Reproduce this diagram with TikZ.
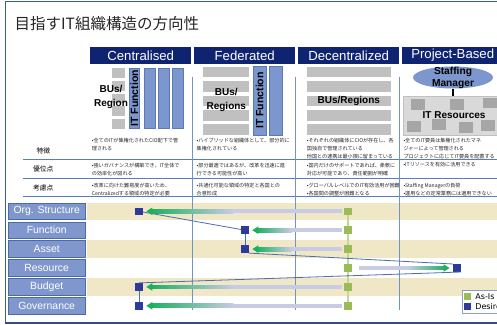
\documentclass[tikz,border=0pt]{standalone}
\usepackage{fontspec}
\setmainfont{Liberation Sans}
\newfontfamily\jpfont{Noto Sans CJK JP}
\newfontfamily\legfont{DejaVu Sans}
\usetikzlibrary{calc,positioning,shapes.geometric}

\definecolor{hdrnavy}{RGB}{14,36,112}
\definecolor{barblue}{RGB}{124,151,206}
\definecolor{baredge}{RGB}{92,120,182}
\definecolor{bugray}{RGB}{192,192,192}
\definecolor{resgray}{RGB}{217,217,217}
\definecolor{resbox}{RGB}{166,166,166}
\definecolor{sepblue}{RGB}{110,148,202}
\definecolor{rowline}{RGB}{88,124,190}
\definecolor{framecol}{RGB}{60,90,158}
\definecolor{labblue}{RGB}{127,151,204}
\definecolor{labedge}{RGB}{74,106,168}
\definecolor{bandcol}{RGB}{239,231,198}
\definecolor{asisgreen}{RGB}{155,187,89}
\definecolor{asisline}{RGB}{195,214,150}
\definecolor{desblue}{RGB}{46,58,155}
\definecolor{desline}{RGB}{77,108,180}
\definecolor{arrgreen}{RGB}{26,176,92}
\definecolor{arrlav}{RGB}{200,203,230}
\definecolor{txtgray}{RGB}{40,40,40}
\definecolor{legedge}{RGB}{140,159,204}

\begin{document}
\begin{tikzpicture}[x=1pt,y=-1pt,
	hdr/.style={fill=hdrnavy,text=white,font=\fontsize{13.2}{14}\selectfont,minimum width=101pt,minimum height=17.3pt,inner sep=0pt},
	bulabel/.style={font=\bfseries\fontsize{10}{13.5}\selectfont,align=center,inner sep=0pt},
	itbar/.style={fill=barblue,draw=baredge,line width=0.4pt,rotate=90,inner sep=0pt,font=\bfseries\fontsize{10.5}{12}\selectfont},
	rowhead/.style={inner sep=0pt,font=\jpfont\fontsize{6.8}{8}\selectfont},
	celltext/.style={anchor=north west,align=left,inner sep=0pt,text=txtgray,font=\jpfont\fontsize{5.1}{8}\selectfont},
	rowlab/.style={fill=labblue,draw=labedge,line width=0.8pt,text=white,minimum width=76.7pt,minimum height=16.5pt,inner sep=0pt,font=\fontsize{10.4}{12}\selectfont},
	asis/.style={fill=asisgreen,minimum size=7.6pt,inner sep=0pt},
	desired/.style={fill=desblue,minimum size=7.6pt,inner sep=0pt},
	colsep/.style={sepblue,line width=0.9pt}]
	\useasboundingbox (0,0) rectangle (497,324);
	\fill[white] (0,0) rectangle (497,324);
	% frame and title
	\draw[framecol,line width=1pt] (5,322) -- (5,1.7) -- (500,1.7);
	\draw[framecol!85!black,line width=2pt] (5,322.5) -- (500,322.5);
	\node(title) [anchor=west,inner sep=0pt,text=black!85,font=\jpfont\fontsize{15.5}{18}\selectfont] at (14.5,23.5) {目指すIT組織構造の方向性};
	% column heads
	\node(cen) [hdr,anchor=north west] at (90,46.7) {Centralised};
	\node(fed) [hdr,right=2.6pt of cen] {Federated};
	\node(dec) [hdr,right=2.6pt of fed] {Decentralized};
	\node(prj) [hdr,right=2.6pt of dec] {Project-Based};
	% Centralised
	\foreach \k in {0,...,4} \fill[bugray] (111.7,{68.3+12.7*\k}) rectangle ++(13.3,9.6);
	\node(cenit) [itbar,minimum width=60pt,minimum height=10pt] at (134.3,98.3) {IT Function};
	\foreach \x in {144,158,172} \filldraw[fill=barblue,draw=baredge,line width=0.4pt] (\x,68.3) rectangle ++(11,60);
	\node(cenbu) [bulabel] at (111,97) {BUs/\\Region};
	% Federated
	\foreach \k in {0,...,4} \fill[bugray] (203.3,{66.7+14.4*\k}) rectangle ++(46,10.6);
	\node(fedbu) [bulabel] at (226.3,100) {BUs/\\Regions};
	\node(fedit) [itbar,minimum width=69pt,minimum height=12.7pt] at (259.7,100.5) {IT Function};
	\filldraw[fill=barblue,draw=baredge,line width=0.4pt] (269.3,66) rectangle (281.7,135);
	% Decentralized
	\foreach \k in {0,...,4} \fill[bugray] (306.7,{66.7+14.4*\k}) rectangle ++(84.3,10.6);
	\node(decbu) [bulabel] at (348.8,100.8) {BUs/Regions};
	% Project-Based
	\node(res) [anchor=north west,fill=resgray,draw=bugray,minimum width=102.3pt,minimum height=39.3pt,inner sep=0pt] at (402.7,95.7) {};
	\foreach \x/\y in {411/99,450/99,482.7/97.7,406.7/121,431.7/119.3,459.3/122.3,481/120}
		\fill[resbox] (\x,\y) rectangle ++(14,10.5);
	\node(resit) [bulabel] at (res.center) {IT Resources};
	\node(stf) [ellipse,fill=barblue,minimum width=80pt,minimum height=22pt,inner sep=0pt] at (453,77.5) {};
	\node(stft) [bulabel,font=\bfseries\fontsize{10.2}{12.6}\selectfont] at ($(stf.center)+(0,0.5)$) {Staffing\\Manager};
	\draw[black,line width=1.2pt] (stf.south) -- (stf.south |- res.north);
	% text rows
	\node(r1) [rowhead] at (43.3,151) {特徴};
	\node(r2) [rowhead] at (43.3,168.5) {優位点};
	\node(r3) [rowhead] at (43.3,187.5) {考慮点};
	\foreach \y in {159,178.3,196} \draw[rowline,line width=0.8pt] (22.7,\y) -- (500,\y);
	\node(c11) [celltext] at (91.7,137.5) {•全てのITが集権化されたCIO配下で管\\理される};
	\node(c12) [celltext] at (91.7,162.5) {•強いガバナンスが構築でき，IT全体で\\の効率化が図れる};
	\node(c13) [celltext] at (91.7,183) {•改革に向けた難易度が高いため、\\Centralizedする領域の特定が必要};
	\node(c21) [celltext] at (196.5,137.5) {•ハイブリッドな組織体として、部分的に\\集権化されている};
	\node(c22) [celltext] at (196.5,162.5) {•部分最適ではあるが、改革を迅速に進\\行できる可能性が高い};
	\node(c23) [celltext] at (196.5,183) {•共通化可能な領域の特定と各国との\\合意形成};
	\node(c31) [celltext] at (306.7,137.5) {•それぞれの組織体にCIOが存在し、各\\国独自で管理されている\\他国との連携は最小限に留まっている};
	\node(c32) [celltext] at (306.7,162.5) {•国内だけのサポートであれば、柔軟に\\対応が可能であり、責任範囲が明確};
	\node(c33) [celltext] at (306.7,183) {•グローバルレベルでのIT有効活用が困難\\•各国間の調整が困難となる};
	\node(c41) [celltext] at (403.3,137.5) {•全てのIT要員は集権化されたマネ\\ジャーによって管理される\\プロジェクトに応じてIT要員を配置する};
	\node(c42) [celltext] at (403.3,162.5) {•ITリソースを有効に活用できる};
	\node(c43) [celltext] at (403.3,183) {•Staffing Managerの負荷\\•運用などの定常業務には適用できない};
	% chart rows
	\coordinate(rgt) at (500,0);
	\node(lorg) [rowlab] at (46.7,211.3) {Org. Structure};
	\node(lfun) [rowlab,below=1.6pt of lorg] {Function};
	\node(last) [rowlab,below=1.6pt of lfun] {Asset};
	\node(lres) [rowlab,below=1.6pt of last] {Resource};
	\node(lbud) [rowlab,below=1.6pt of lres] {Budget};
	\node(lgov) [rowlab,below=1.6pt of lbud] {Governance};
	\foreach \n in {lorg,last,lbud} \fill[bandcol] ($(\n.north east)+(1.7,0)$) rectangle (\n.south -| rgt);
	\foreach \x in {192.3,295.9,399.5} \draw[colsep] (\x,76.7) -- (\x,310);
	% markers
	\coordinate(asx) at (348,0);
	\coordinate(dl) at (139,0);
	\coordinate(dm) at (245,0);
	\coordinate(dr) at (457,0);
	\node(a1) [asis] at (lorg -| asx) {};
	\node(a2) [asis] at (lfun -| asx) {};
	\node(a3) [asis] at (last -| asx) {};
	\node(a4) [asis] at (lres -| asx) {};
	\node(a5) [asis] at (lbud -| asx) {};
	\node(a6) [asis] at (lgov -| asx) {};
	\node(d1) [desired] at (lorg -| dl) {};
	\node(d2) [desired] at (lfun -| dm) {};
	\node(d3) [desired] at (last -| dm) {};
	\node(d4) [desired] at (lres -| dr) {};
	\node(d5) [desired] at (lbud -| dl) {};
	\node(d6) [desired] at (lgov -| dl) {};
	\path[asisline,line width=1.3pt]
		(a1) edge (a2) (a2) edge (a3) (a3) edge (a4)
		(a4) edge (a5) (a5) edge (a6);
	\path[desline,line width=0.8pt]
		(d1) edge (d2) (d2) edge (d3)
		(d3.south east) edge (d4.north west)
		(d4.south east) edge (d5.north) (d5) edge (d6);
	% moves from as-is to desired
	\foreach \d/\a in {d1/a1,d2/a2,d3/a3,d5/a5,d6/a6} {
		\shade[left color=arrgreen,right color=arrlav] ($(\d.east)+(7,-1.9)$) rectangle ($(\d.east)!0.45!(\a.west)+(0,1.9)$);
		\fill[arrlav] ($(\d.east)!0.45!(\a.west)+(0,-1.9)$) rectangle ($(\a.west)+(-2.5,1.9)$);
		\fill[arrgreen] ($(\d.east)+(3.3,0)$) -- ++(6,-3.8) -- ++(0,7.6) -- cycle;
	}
	\fill[arrlav] ($(a4.east)+(7,-1.9)$) rectangle ($(a4.east)!0.55!(d4.west)+(0,1.9)$);
	\shade[left color=arrlav,right color=arrgreen] ($(a4.east)!0.55!(d4.west)+(0,-1.9)$) rectangle ($(d4.west)+(-7,1.9)$);
	\fill[arrgreen] ($(d4.west)+(-3.5,0)$) -- ++(-6,-3.8) -- ++(0,7.6) -- cycle;
	% legend
	\node(leg) [anchor=north west,draw=legedge,fill=white,line width=0.9pt,minimum width=45pt,minimum height=22.7pt,inner sep=0pt] at (461.7,290) {};
	\node(lga) [asis,minimum size=7pt] at (467.3,296.3) {};
	\node(lgd) [desired,minimum size=7pt,below=3pt of lga] {};
	\node(lgat) [anchor=west,inner sep=0pt,font=\legfont\fontsize{8}{9}\selectfont] at ($(lga.east)+(4.2,0)$) {As-Is};
	\node(lgdt) [anchor=west,inner sep=0pt,font=\legfont\fontsize{8}{9}\selectfont] at ($(lgd.east)+(4.2,0)$) {Desired};
\end{tikzpicture}
\end{document}
